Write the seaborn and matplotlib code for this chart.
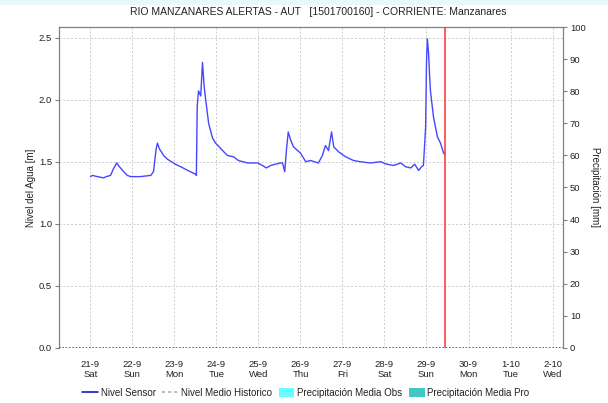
import pandas as pd
import matplotlib
matplotlib.use('Agg')
import matplotlib.pyplot as plt
from matplotlib.lines import Line2D
from matplotlib.patches import Patch
import seaborn as sns

# Nivel sensor readings
times = [
    '2024-09-21 00:00', '2024-09-21 01:00', '2024-09-21 04:00', '2024-09-21 07:30',
    '2024-09-21 09:00', '2024-09-21 11:30', '2024-09-21 13:00', '2024-09-21 15:00',
    '2024-09-21 16:30', '2024-09-21 19:00', '2024-09-21 21:00', '2024-09-21 23:00',
    '2024-09-22 04:30', '2024-09-22 10:30', '2024-09-22 12:00', '2024-09-22 13:30',
    '2024-09-22 14:15', '2024-09-22 15:30', '2024-09-22 16:30', '2024-09-22 17:45',
    '2024-09-22 20:00', '2024-09-22 22:15', '2024-09-23 00:30', '2024-09-23 03:30',
    '2024-09-23 06:15', '2024-09-23 09:00', '2024-09-23 12:00', '2024-09-23 12:30',
    '2024-09-23 13:00', '2024-09-23 13:45', '2024-09-23 15:00', '2024-09-23 16:00',
    '2024-09-23 17:00', '2024-09-23 17:45', '2024-09-23 19:30', '2024-09-23 21:45',
    '2024-09-23 23:30', '2024-09-24 03:30', '2024-09-24 06:15', '2024-09-24 09:45',
    '2024-09-24 12:30', '2024-09-24 17:45', '2024-09-24 23:30', '2024-09-25 02:15',
    '2024-09-25 04:30', '2024-09-25 07:00', '2024-09-25 12:30', '2024-09-25 13:45',
    '2024-09-25 15:00', '2024-09-25 16:00', '2024-09-25 17:00', '2024-09-25 18:15',
    '2024-09-25 20:00', '2024-09-26 00:00', '2024-09-26 03:00', '2024-09-26 05:45',
    '2024-09-26 10:15', '2024-09-26 12:30', '2024-09-26 14:15', '2024-09-26 16:00',
    '2024-09-26 17:45', '2024-09-26 19:00', '2024-09-26 21:45', '2024-09-27 01:45',
    '2024-09-27 06:15', '2024-09-27 10:15', '2024-09-27 16:00', '2024-09-27 21:45',
    '2024-09-28 01:15', '2024-09-28 05:15', '2024-09-28 09:15', '2024-09-28 12:00',
    '2024-09-28 15:00', '2024-09-28 17:15', '2024-09-28 19:30', '2024-09-28 21:15',
    '2024-09-28 22:15', '2024-09-28 23:30', '2024-09-29 00:00', '2024-09-29 00:30',
    '2024-09-29 01:15', '2024-09-29 01:45', '2024-09-29 02:15', '2024-09-29 04:00',
    '2024-09-29 06:15', '2024-09-29 08:00', '2024-09-29 09:45', '2024-09-29 10:15',
]
nivel = [
    1.38, 1.39, 1.38, 1.37,
    1.38, 1.39, 1.44, 1.49,
    1.46, 1.42, 1.39, 1.38,
    1.38, 1.39, 1.42, 1.60,
    1.65, 1.60, 1.58, 1.55,
    1.52, 1.50, 1.48, 1.46,
    1.44, 1.42, 1.40, 1.39,
    1.95, 2.07, 2.03, 2.30,
    2.10, 2.01, 1.81, 1.69,
    1.65, 1.59, 1.55, 1.54,
    1.51, 1.49, 1.49, 1.47,
    1.45, 1.47, 1.49, 1.49,
    1.42, 1.60, 1.74, 1.68,
    1.62, 1.57, 1.50, 1.51,
    1.49, 1.55, 1.63, 1.59,
    1.74, 1.62, 1.58, 1.54,
    1.51, 1.50, 1.49, 1.50,
    1.48, 1.47, 1.49, 1.46,
    1.45, 1.48, 1.43, 1.46,
    1.47, 1.78, 2.30, 2.49,
    2.36, 2.20, 2.07, 1.86,
    1.70, 1.65, 1.57, 1.56,
]

ahora = '2024-09-29 10:20'
x_start, x_end = '2024-09-20 06:00', '2024-10-02 06:00'
dias = pd.date_range('2024-09-21', '2024-10-02', freq='D')
dia_sem = ['Sat', 'Sun', 'Mon', 'Tue', 'Wed', 'Thu', 'Fri', 'Sat', 'Sun', 'Mon', 'Tue', 'Wed']

df = pd.DataFrame({'fecha': pd.to_datetime(times), 'nivel': nivel})

sns.set_style('white')
plt.rcParams['font.family'] = ['Liberation Sans', 'DejaVu Sans']

fig = plt.figure(figsize=(6.08, 4.03), dpi=100)
ax = fig.add_axes([0.097, 0.1365, 0.829, 0.7965])

# historical mean (no data -> flat dotted at 0)
ax.plot(pd.to_datetime([x_start, x_end]), [0, 0], color='#555555', ls=(0, (1, 1)), lw=1.2, zorder=3)
sns.lineplot(data=df, x='fecha', y='nivel', ax=ax, color='#4646ff', lw=1.0, zorder=4)
ax.axvline(pd.to_datetime(ahora), color='#ff3030', lw=1.1, zorder=5)

ax.set_xlim(pd.to_datetime(x_start), pd.to_datetime(x_end))
ax.set_ylim(0, 2.585)
ax.set_yticks([0, 0.5, 1.0, 1.5, 2.0, 2.5])
ax.set_yticklabels(['0.0', '0.5', '1.0', '1.5', '2.0', '2.5'])
ax.set_xticks(dias)
ax.set_xticklabels([f'{d.day}-{d.month}\n{w}' for d, w in zip(dias, dia_sem)])
ax.grid(True, color='#cccccc', ls=(0, (2, 2)), lw=0.7)
ax.set_xlabel('')
ax.set_ylabel('Nivel del Agua [m]', fontsize=7, color='#222222', labelpad=2)
ax.tick_params(axis='y', which='both', left=True, length=3, width=0.8, color='#808080',
               labelsize=6.8, labelcolor='#222222', pad=2)
ax.tick_params(axis='x', bottom=False, labelsize=6.8, labelcolor='#222222', pad=5)
for s in ['left', 'right', 'top']:
    ax.spines[s].set_color('#808080')
    ax.spines[s].set_linewidth(0.9)
ax.spines['bottom'].set_visible(False)

ax2 = ax.twinx()
ax2.set_ylim(0, 100)
ax2.set_yticks(range(0, 101, 10))
ax2.tick_params(axis='y', right=True, length=3, width=0.8, color='#808080',
                labelsize=6.8, labelcolor='#222222', pad=2)
ax2.set_ylabel('Precipitación [mm]', fontsize=7, color='#222222', rotation=-90, labelpad=10)
for s in ax2.spines.values():
    s.set_visible(False)

fig.suptitle('RIO MANZANARES ALERTAS - AUT   [1501700160] - CORRIENTE: Manzanares',
             x=0.523, y=0.982, fontsize=7.5, color='#222222')

handles = [
    Line2D([], [], color='#0000cc', lw=1.1),
    Line2D([], [], color='#aaaaaa', lw=1.1, ls=(0, (2, 2))),
    Patch(facecolor='#66ffff', edgecolor='none'),
    Patch(facecolor='#40c8c8', edgecolor='none'),
]
labels = ['Nivel Sensor', 'Nivel Medio Historico', 'Precipitación Media Obs', 'Precipitación Media Pro']
fig.legend(handles, labels, loc='center', bbox_to_anchor=(0.503, 0.025), ncol=4, frameon=False,
           fontsize=7, handlelength=1.6, handletextpad=0.3, columnspacing=0.7,
           handleheight=1.0, labelcolor='#222222')

# thin light band on top of the image
fig.patches.append(plt.Rectangle((0, 0.99), 1, 0.01, transform=fig.transFigure,
                                 color='#e6fafd', zorder=0))

fig.savefig('out.png', dpi=100)
